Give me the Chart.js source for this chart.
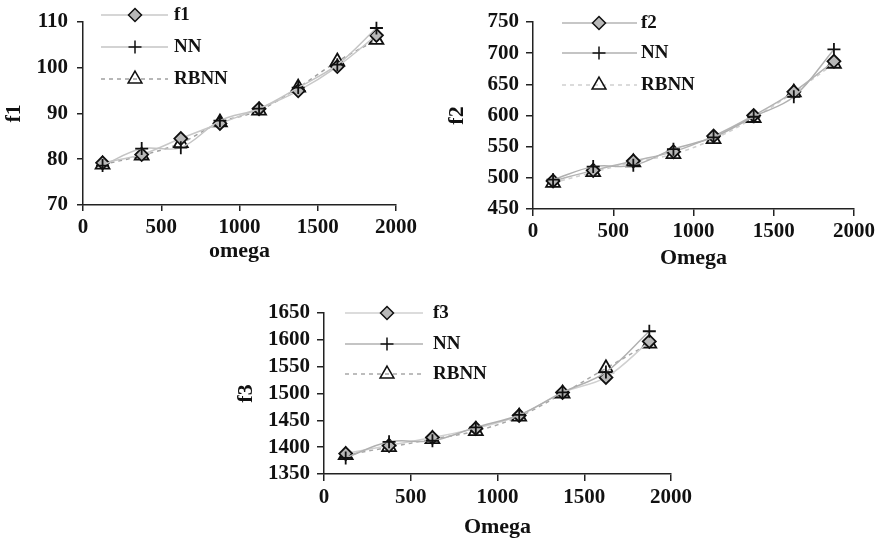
<!DOCTYPE html>
<html>
<head>
<meta charset="utf-8">
<script src="https://cdn.jsdelivr.net/npm/chart.js@4.4.0/dist/chart.umd.min.js"></script>
<style>
  html, body { margin: 0; padding: 0; background: #fff; }
  body { width: 878px; height: 541px; position: relative; overflow: hidden; }
  canvas { position: absolute; }
</style>
</head>
<body>
<canvas id="c1"></canvas>
<canvas id="c2"></canvas>
<canvas id="c3"></canvas>
<script>
// shared x values (omega)
const omega = [125, 375, 625, 875, 1125, 1375, 1625, 1875];
const omegaAxis = [0, 2000, 500];

// f1 panel
const f1 = [79.2, 81.0, 84.5, 87.8, 91.0, 94.9, 100.2, 107.0];
const f1NN = [78.6, 82.3, 82.5, 88.4, 91.0, 95.6, 100.6, 108.6];
const f1RBNN = [78.8, 80.8, 83.5, 88.0, 90.6, 95.6, 101.3, 106.0];
const f1Axis = [70, 110, 10];

// f2 panel
const f2 = [495, 512, 527, 542, 567, 600, 638, 687];
const f2NN = [497, 518, 520, 546, 565, 598, 630, 706];
const f2RBNN = [492, 509, 525, 538, 562, 596, 637, 683];
const f2Axis = [450, 750, 50];

// f3 panel
const f3 = [1388, 1403, 1418, 1435, 1459, 1502, 1530, 1597];
const f3NN = [1380, 1410, 1412, 1437, 1460, 1502, 1540, 1616];
const f3RBNN = [1385, 1400, 1415, 1430, 1457, 1500, 1547, 1593];
const f3Axis = [1350, 1650, 50];

const serif = "'Liberation Serif', 'Times New Roman', serif";
const tickFont = { family: serif, size: 21, weight: 'bold', lineHeight: 1.2 };
const titleFont = { family: serif, size: 22, weight: 'bold', lineHeight: 1.2 };
const ink = '#111';
const plain = v => String(v);

// box: [left, top, width, height] of the canvas on the page
// area: [left, right, top, bottom] of the plot area on the page
const panels = [
  {
    id: 'c1', box: [0, 0, 440, 270], area: [83, 396, 14, 205],
    yTitle: 'f1', xTitle: 'omega', yAxis: f1Axis,
    series: [['f1', f1], ['NN', f1NN], ['RBNN', f1RBNN]],
    lines: ['#c8c8c8', '#c4c4c4', '#a0a0a0'],
    tick: 6, yPad: 9, xPad: 4, yTitlePad: 1.3, xTitlePad: 5,
    legend: { x0: 101, x1: 168, xm: 135, xt: 174, rows: [15, 47, 79] }
  },
  {
    id: 'c2', box: [440, 0, 438, 275], area: [533, 854, 22, 209],
    yTitle: 'f2', xTitle: 'Omega', yAxis: f2Axis,
    series: [['f2', f2], ['NN', f2NN], ['RBNN', f2RBNN]],
    lines: ['#b4b4b4', '#b0b0b0', '#cfcfcf'],
    tick: 7, yPad: 7, xPad: 3, yTitlePad: 4.3, xTitlePad: 3,
    legend: { x0: 562, x1: 637, xm: 599, xt: 641, rows: [23, 53, 85] }
  },
  {
    id: 'c3', box: [220, 265, 480, 276], area: [324, 671, 313, 474],
    yTitle: 'f3', xTitle: 'Omega', yAxis: f3Axis,
    series: [['f3', f3], ['NN', f3NN], ['RBNN', f3RBNN]],
    lines: ['#d0d0d0', '#b0b0b0', '#a8a8a8'],
    tick: 7, yPad: 7, xPad: 3.5, yTitlePad: 12.8, xTitlePad: 0,
    legend: { x0: 345, x1: 423, xm: 387, xt: 433, rows: [313, 344, 374] }
  }
];

// marker look for the three series: measured, NN, RBNN
const markers = [
  { pointStyle: 'rectRot', pointRadius: 6.5, pointBackgroundColor: '#b8b8b8', dash: [] },
  { pointStyle: 'cross', pointRadius: 6.5, pointBackgroundColor: '#000', dash: [] },
  { pointStyle: 'triangle', pointRadius: 8, pointBackgroundColor: 'rgba(0,0,0,0)', dash: [4, 4] }
];

// legend drawn inside the plot, one row per dataset
const insideLegend = {
  id: 'insideLegend',
  afterDatasetsDraw(chart, args, opts) {
    const ctx = chart.ctx;
    chart.data.datasets.forEach((ds, i) => {
      const y = opts.rows[i];
      ctx.save();
      ctx.strokeStyle = ds.borderColor;
      ctx.lineWidth = ds.borderWidth;
      ctx.setLineDash(ds.borderDash || []);
      ctx.beginPath();
      ctx.moveTo(opts.x0, y);
      ctx.lineTo(opts.x1, y);
      ctx.stroke();
      ctx.setLineDash([]);
      ctx.fillStyle = ds.pointBackgroundColor;
      ctx.strokeStyle = ds.pointBorderColor;
      ctx.lineWidth = 1.5;
      Chart.helpers.drawPoint(ctx, {
        pointStyle: ds.pointStyle, radius: ds.pointRadius, rotation: 0, borderWidth: 1.5
      }, opts.xm, y);
      ctx.fillStyle = ink;
      ctx.font = `bold 19px ${serif}`;
      ctx.textBaseline = 'middle';
      ctx.textAlign = 'left';
      ctx.fillText(ds.label, opts.xt, y);
      ctx.restore();
    });
  }
};

panels.forEach(p => {
  const [bl, bt, bw, bh] = p.box;
  const aL = p.area[0] - bl, aR = p.area[1] - bl, aT = p.area[2] - bt, aB = p.area[3] - bt;
  const canvas = document.getElementById(p.id);
  canvas.width = bw;
  canvas.height = bh;
  canvas.style.left = bl + 'px';
  canvas.style.top = bt + 'px';

  const datasets = p.series.map(([label, vals], i) => ({
    label,
    data: omega.map((x, k) => ({ x, y: vals[k] })),
    borderColor: p.lines[i],
    borderWidth: 1.5,
    borderDash: markers[i].dash,
    tension: 0.35,
    pointStyle: markers[i].pointStyle,
    pointRadius: markers[i].pointRadius,
    pointBackgroundColor: markers[i].pointBackgroundColor,
    pointBorderColor: '#111',
    pointBorderWidth: 1.8,
    order: i === 1 ? 0 : i === 0 ? 1 : 2
  }));

  const lg = p.legend;
  new Chart(canvas, {
    type: 'line',
    data: { datasets },
    plugins: [insideLegend],
    options: {
      responsive: false,
      devicePixelRatio: 1,
      animation: false,
      events: [],
      layout: { padding: { left: 0, top: aT, right: bw - aR, bottom: 0 } },
      plugins: {
        legend: { display: false },
        tooltip: { enabled: false },
        insideLegend: {
          x0: lg.x0 - bl, x1: lg.x1 - bl, xm: lg.xm - bl, xt: lg.xt - bl,
          rows: lg.rows.map(r => r - bt)
        }
      },
      scales: {
        x: {
          type: 'linear',
          min: omegaAxis[0], max: omegaAxis[1],
          ticks: { stepSize: omegaAxis[2], color: ink, font: tickFont, padding: p.xPad, maxRotation: 0, autoSkip: false, callback: plain },
          grid: { drawOnChartArea: false, drawTicks: true, tickLength: p.tick, color: '#222', lineWidth: 1.5 },
          border: { color: '#222', width: 1.5 },
          title: { display: true, text: p.xTitle, color: ink, font: titleFont, padding: { top: 0, bottom: p.xTitlePad } },
          afterFit(s) { s.height = bh - aB; }
        },
        y: {
          type: 'linear',
          min: p.yAxis[0], max: p.yAxis[1],
          ticks: { stepSize: p.yAxis[2], color: ink, font: tickFont, padding: p.yPad, autoSkip: false, callback: plain },
          grid: { drawOnChartArea: false, drawTicks: true, tickLength: p.tick, color: '#222', lineWidth: 1.5 },
          border: { color: '#222', width: 1.5 },
          title: { display: true, text: p.yTitle, color: ink, font: titleFont, padding: { top: p.yTitlePad, bottom: 0 } },
          afterFit(s) { s.width = aL; }
        }
      }
    }
  });
});
</script>
</body>
</html>
